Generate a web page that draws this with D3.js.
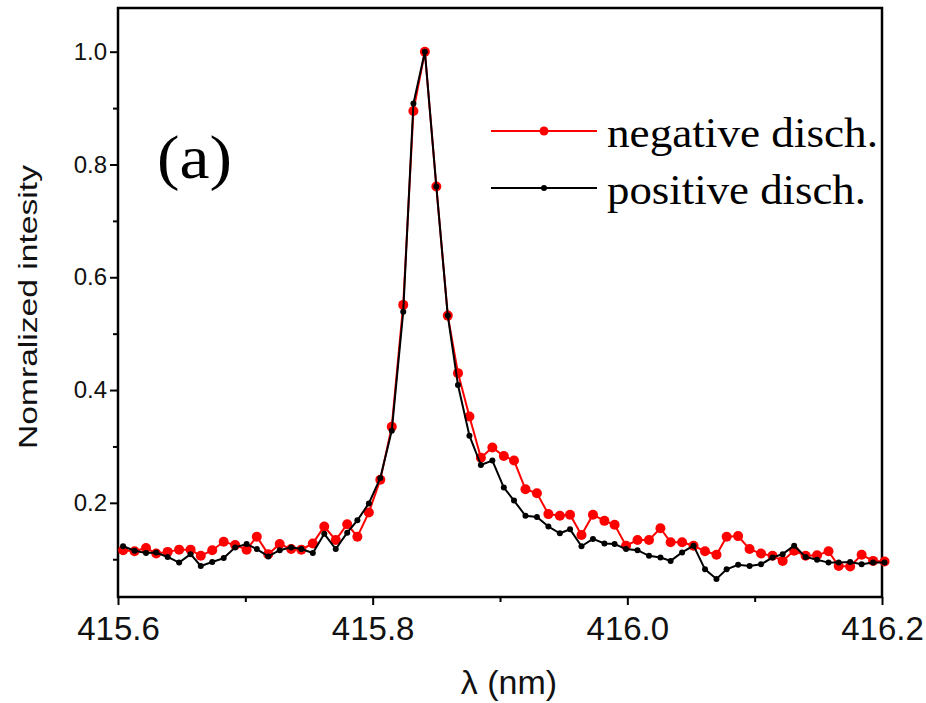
<!DOCTYPE html>
<html>
<head>
<meta charset="utf-8">
<script src="https://cdn.jsdelivr.net/npm/d3@7"></script>
<style>
  body { margin: 0; background: #fff; }
  svg { display: block; }
</style>
</head>
<body>
<div id="chart"></div>
<script>
// wavelength grid (nm)
const wavelength = [
  415.604, 415.613, 415.622, 415.630, 415.639, 415.648, 415.657, 415.665, 415.674, 415.683,
  415.692, 415.701, 415.709, 415.718, 415.727, 415.736, 415.744, 415.753, 415.762, 415.771,
  415.780, 415.788, 415.797, 415.806, 415.815, 415.824, 415.832, 415.841, 415.850, 415.859,
  415.867, 415.876, 415.885, 415.894, 415.903, 415.911, 415.920, 415.929, 415.938, 415.947,
  415.955, 415.964, 415.973, 415.982, 415.990, 415.999, 416.008, 416.017, 416.026, 416.034,
  416.043, 416.052, 416.061, 416.070, 416.078, 416.087, 416.096, 416.105, 416.114, 416.122,
  416.131, 416.140, 416.149, 416.158, 416.166, 416.175, 416.184, 416.193, 416.202
];

const negative = [
  0.116, 0.114, 0.120, 0.110, 0.113, 0.117, 0.117, 0.106, 0.116, 0.131,
  0.125, 0.117, 0.140, 0.109, 0.127, 0.118, 0.117, 0.128, 0.158, 0.134,
  0.162, 0.140, 0.183, 0.241, 0.335, 0.551, 0.895, 1.000, 0.761, 0.532,
  0.430, 0.353, 0.280, 0.298, 0.283, 0.275, 0.224, 0.217, 0.180, 0.177,
  0.179, 0.143, 0.179, 0.168, 0.161, 0.124, 0.134, 0.134, 0.155, 0.130,
  0.130, 0.124, 0.114, 0.108, 0.140, 0.141, 0.118, 0.110, 0.106, 0.097,
  0.115, 0.106, 0.107, 0.114, 0.088, 0.087, 0.108, 0.097, 0.096
];

const positive = [
  0.123, 0.115, 0.111, 0.112, 0.104, 0.094, 0.109, 0.088, 0.095, 0.102,
  0.121, 0.127, 0.118, 0.105, 0.116, 0.121, 0.118, 0.111, 0.145, 0.118,
  0.147, 0.169, 0.199, 0.244, 0.328, 0.539, 0.908, 1.000, 0.761, 0.532,
  0.409, 0.319, 0.267, 0.275, 0.227, 0.204, 0.177, 0.175, 0.158, 0.146,
  0.153, 0.123, 0.136, 0.128, 0.127, 0.118, 0.116, 0.106, 0.103, 0.097,
  0.112, 0.124, 0.082, 0.065, 0.082, 0.090, 0.088, 0.091, 0.103, 0.109,
  0.124, 0.104, 0.099, 0.094, 0.094, 0.095, 0.091, 0.094, 0.094
];

const xTicks = [415.6, 415.8, 416.0, 416.2];
const xMinor = [415.7, 415.9, 416.1];
const yTicks = [0.2, 0.4, 0.6, 0.8, 1.0];
const yMinor = [0.1, 0.3, 0.5, 0.7, 0.9];

const seriesNames = ["negative disch.", "positive disch."];

const width = 926;
const height = 703;
const margin = { top: 8, right: 44, bottom: 106, left: 118 };

const svg = d3
  .select("#chart")
  .append("svg")
  .attr("width", width)
  .attr("height", height);

const x = d3
  .scaleLinear()
  .domain([415.6, 416.2])
  .range([margin.left, width - margin.right]);

const y = d3
  .scaleLinear()
  .domain([0.033, 1.0775])
  .range([height - margin.bottom, margin.top]);

const sans = "'Liberation Sans', Arial, sans-serif";
const serif = "'Liberation Serif', 'Times New Roman', serif";

// frame
svg
  .append("rect")
  .attr("x", margin.left)
  .attr("y", margin.top)
  .attr("width", width - margin.left - margin.right)
  .attr("height", height - margin.top - margin.bottom)
  .attr("fill", "none")
  .attr("stroke", "#000")
  .attr("stroke-width", 2.5);

// x axis
const xAxis = svg
  .append("g")
  .attr("transform", `translate(0,${height - margin.bottom})`)
  .call(d3.axisBottom(x).tickValues(xTicks).tickFormat(d3.format(".1f")).tickSize(8).tickPadding(12));

svg
  .append("g")
  .attr("transform", `translate(0,${height - margin.bottom})`)
  .call(d3.axisBottom(x).tickValues(xMinor).tickFormat("").tickSize(5));

// y axis
const yAxis = svg
  .append("g")
  .attr("transform", `translate(${margin.left},0)`)
  .call(d3.axisLeft(y).tickValues(yTicks).tickFormat(d3.format(".1f")).tickSize(8).tickPadding(3));

svg
  .append("g")
  .attr("transform", `translate(${margin.left},0)`)
  .call(d3.axisLeft(y).tickValues(yMinor).tickFormat("").tickSize(5));

svg.selectAll(".domain").attr("stroke", "none");
svg.selectAll(".tick line").attr("stroke", "#000").attr("stroke-width", 2);

xAxis
  .selectAll("text")
  .attr("font-family", sans)
  .attr("font-size", 33)
  .attr("fill", "#111");

yAxis
  .selectAll("text")
  .attr("font-family", sans)
  .attr("font-size", 24)
  .attr("fill", "#111");

// axis titles
svg
  .append("text")
  .attr("x", 509)
  .attr("y", 694)
  .attr("text-anchor", "middle")
  .attr("font-family", sans)
  .attr("font-size", 34)
  .attr("fill", "#111")
  .text("λ (nm)");

svg
  .append("text")
  .attr("transform", "translate(37,307) rotate(-90)")
  .attr("text-anchor", "middle")
  .attr("font-family", sans)
  .attr("font-size", 26)
  .attr("textLength", 284)
  .attr("lengthAdjust", "spacingAndGlyphs")
  .attr("fill", "#111")
  .text("Nomralized intesity");

// series
const lineGen = (vals) =>
  d3
    .line()
    .x((d, i) => x(wavelength[i]))
    .y((d) => y(d))(vals);

const series = [
  { name: seriesNames[0], values: negative, color: "#ff0000", r: 5 },
  { name: seriesNames[1], values: positive, color: "#000000", r: 3 }
];

series.forEach(function (s) {
  svg
    .append("path")
    .attr("d", lineGen(s.values))
    .attr("fill", "none")
    .attr("stroke", s.color)
    .attr("stroke-width", 2);

  svg
    .append("g")
    .selectAll("circle")
    .data(s.values)
    .enter()
    .append("circle")
    .attr("cx", (d, i) => x(wavelength[i]))
    .attr("cy", (d) => y(d))
    .attr("r", s.r)
    .attr("fill", s.color);
});

// panel label
svg
  .append("text")
  .attr("x", 157)
  .attr("y", 178)
  .attr("font-family", serif)
  .attr("font-size", 62)
  .attr("textLength", 75)
  .attr("lengthAdjust", "spacingAndGlyphs")
  .attr("fill", "#000")
  .text("(a)");

// legend
const legend = svg.append("g");
const legendRows = [
  { name: seriesNames[0], color: "#ff0000", r: 4.5, y: 131, len: 271 },
  { name: seriesNames[1], color: "#000000", r: 3, y: 188, len: 259 }
];

legendRows.forEach(function (row) {
  legend
    .append("line")
    .attr("x1", 491)
    .attr("x2", 597)
    .attr("y1", row.y)
    .attr("y2", row.y)
    .attr("stroke", row.color)
    .attr("stroke-width", 2);
  legend
    .append("circle")
    .attr("cx", 544)
    .attr("cy", row.y)
    .attr("r", row.r)
    .attr("fill", row.color);
  legend
    .append("text")
    .attr("x", 607)
    .attr("y", row.y + 16)
    .attr("font-family", serif)
    .attr("font-size", 42)
    .attr("textLength", row.len)
    .attr("lengthAdjust", "spacingAndGlyphs")
    .attr("fill", "#000")
    .text(row.name);
});
</script>
</body>
</html>
